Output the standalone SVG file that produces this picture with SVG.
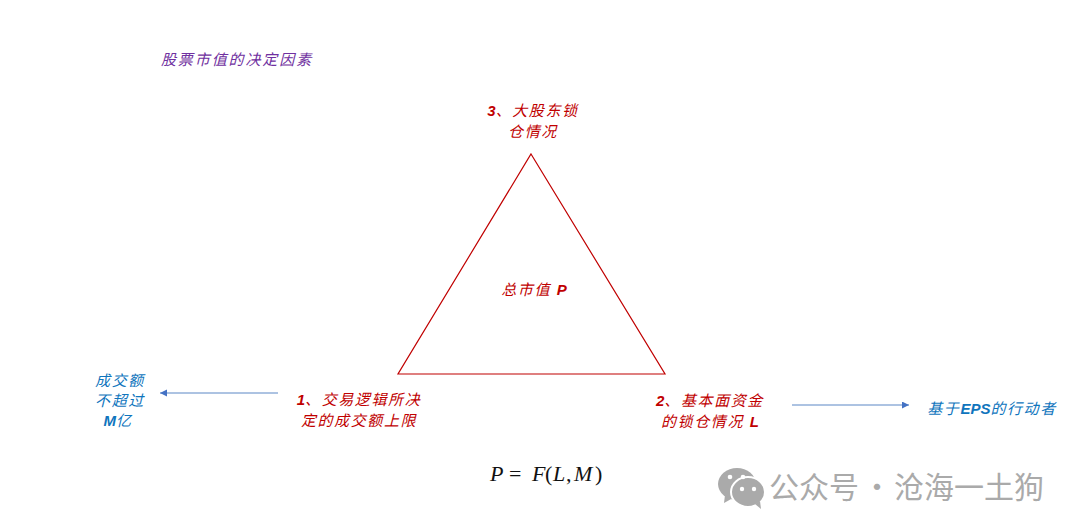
<svg xmlns="http://www.w3.org/2000/svg" width="1080" height="531" viewBox="0 0 1080 531">
<style>
text{font-family:"Liberation Sans","Noto Sans CJK SC",sans-serif;font-style:italic;text-anchor:middle}
.r{fill:#c00000;font-size:15px;letter-spacing:1.6px}
.b{fill:#0f75bd;font-size:15px;letter-spacing:1.6px}
.p{fill:#7030a0;font-size:15px;letter-spacing:1.9px}
.l{font-weight:bold;letter-spacing:0}
.c{stroke:#5b87c5;stroke-width:1;fill:none;marker-end:url(#a)}
.wm{fill:#aaa;font-style:normal;font-size:30px;font-family:"Noto Sans CJK SC",sans-serif;text-anchor:start}
.f{fill:#111;font-family:"Liberation Serif",serif;font-size:22px;text-anchor:start}
.n{font-style:normal}
</style>
<defs><marker id="a" markerWidth="8" markerHeight="8" refX="7" refY="3.5" orient="auto" markerUnits="userSpaceOnUse"><path d="M0 0L7 3.5L0 7z" fill="#4472c4"/></marker></defs>
<rect width="1080" height="531" fill="#fff"/>
<g id="title"><text class="p" x="237" y="65">股票市值的决定因素</text></g>
<g id="triangle"><path d="M531 154L665 374H398Z" fill="none" stroke="#c00000" stroke-width="1.2"/><text class="r" x="534" y="295">总市值 <tspan class="l">P</tspan></text></g>
<g id="top"><text class="r" x="533" y="116"><tspan class="l">3</tspan>、大股东锁</text><text class="r" x="533" y="137">仓情况</text></g>
<g id="left"><text class="r" x="359" y="405"><tspan class="l">1</tspan>、交易逻辑所决</text><text class="r" x="359" y="426">定的成交额上限</text></g>
<g id="right"><text class="r" x="710" y="406"><tspan class="l">2</tspan>、基本面资金</text><text class="r" x="710" y="427">的锁仓情况 <tspan class="l">L</tspan></text></g>
<g id="turnover"><text class="b" x="120" y="386">成交额</text><text class="b" x="120" y="406">不超过</text><text class="b" x="118" y="426"><tspan class="l">M</tspan>亿</text></g>
<g id="eps"><text class="b" x="992" y="414">基于<tspan class="l">EPS</tspan>的行动者</text></g>
<g id="connectors"><path class="c" d="M278 393H160"/><path class="c" d="M792 405H909"/></g>
<g id="formula"><text class="f" x="490" y="481">P</text><text class="f n" x="509" y="481">=</text><text class="f" x="532" y="481">F</text><text class="f n" x="545" y="481">(</text><text class="f" x="553" y="481">L</text><text class="f n" x="566" y="481">,</text><text class="f" x="574" y="481">M</text><text class="f n" x="595" y="481">)</text></g>
<g id="watermark">
<ellipse cx="737" cy="484" rx="19" ry="16" fill="#aaa"/><path d="M725 495l-1 8 9-5z" fill="#aaa"/>
<ellipse cx="748" cy="492" rx="17" ry="15" fill="#aaa" stroke="#fff" stroke-width="2"/><path d="M755 504l6 5-1-8z" fill="#aaa"/>
<circle cx="730" cy="477" r="2.3" fill="#fff"/><circle cx="743" cy="477" r="2.3" fill="#fff"/><circle cx="742" cy="489" r="2.2" fill="#fff"/><circle cx="754" cy="489" r="2.2" fill="#fff"/>
<text class="wm" x="769" y="498">公众号</text><text class="wm" x="862" y="498">·</text><text class="wm" x="894" y="498">沧海一土狗</text></g>
</svg>
